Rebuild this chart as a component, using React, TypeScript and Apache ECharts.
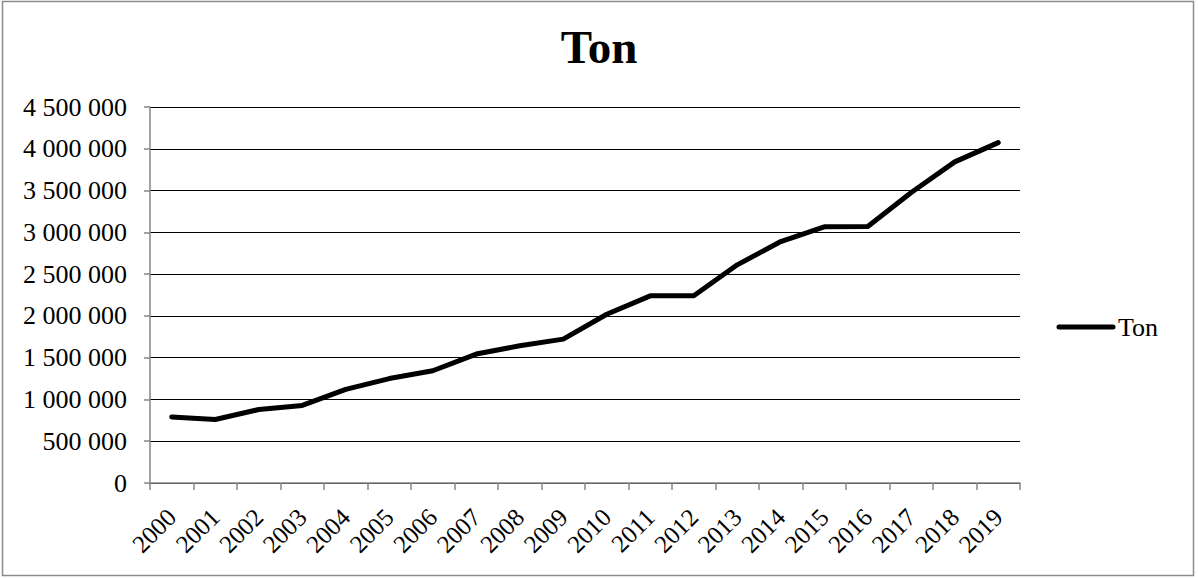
import React, { useEffect, useRef } from "react";
import * as echarts from "echarts";

const years = [
  "2000", "2001", "2002", "2003", "2004", "2005", "2006", "2007", "2008", "2009",
  "2010", "2011", "2012", "2013", "2014", "2015", "2016", "2017", "2018", "2019",
];
const tonValues = [
  790000, 760000, 880000, 928000, 1120000, 1250000, 1343000, 1543000, 1642000, 1722000,
  2020000, 2240000, 2240000, 2611000, 2890000, 3066000, 3070000, 3476000, 3843000, 4074000,
];
const seriesName = "Ton";
const titleText = "Ton";

const fmt = (v: number) => String(v).replace(/\B(?=(\d{3})+(?!\d))/g, " ");

export default function App() {
  const ref = useRef<HTMLDivElement>(null);
  useEffect(() => {
    if (!ref.current) return;
    const chart = echarts.init(ref.current, null, { renderer: "svg" });
    const font = "'Liberation Serif', 'Times New Roman', serif";
    chart.setOption({
      animation: false,
      backgroundColor: "#ffffff",
      title: {
        text: titleText,
        left: "center",
        top: 18,
        textStyle: { fontFamily: font, fontSize: 47, fontWeight: "bold", color: "#000" },
      },
      legend: {
        show: true,
        left: 1058,
        top: 309,
        itemWidth: 55,
        itemHeight: 14,
        itemGap: 0,
        data: [{ name: seriesName, icon: "none" }],
        textStyle: { fontFamily: font, fontSize: 26, color: "#000", padding: [0, 0, 0, -5] },
      },
      graphic: [
        {
          type: "rect",
          shape: { x: 2.5, y: 1.5, width: 1191, height: 574 },
          style: { fill: "none", stroke: "#8c8c8c", lineWidth: 1.5 },
          silent: true,
        },
        {
          type: "line",
          shape: { x1: 1059, y1: 327, x2: 1113, y2: 327 },
          style: { stroke: "#000", lineWidth: 5, lineCap: "round" },
          silent: true,
        },
      ],
      grid: { left: 150, right: 178, top: 107, bottom: 96, containLabel: false },
      xAxis: {
        type: "category",
        data: years,
        boundaryGap: true,
        axisLine: { show: true, lineStyle: { color: "#868686", width: 1.5 } },
        axisTick: { show: true, length: 7, inside: false, alignWithLabel: false, lineStyle: { color: "#868686", width: 1.5 } },
        axisLabel: {
          interval: 0,
          rotate: 45,
          margin: 30,
          fontFamily: font,
          fontSize: 25,
          color: "#000",
        },
        splitLine: { show: false },
      },
      yAxis: {
        type: "value",
        min: 0,
        max: 4500000,
        interval: 500000,
        axisLine: { show: true, lineStyle: { color: "#868686", width: 1.5 } },
        axisTick: { show: true, length: 6, lineStyle: { color: "#868686", width: 1.5 } },
        axisLabel: {
          margin: 23,
          fontFamily: font,
          fontSize: 26,
          color: "#000",
          formatter: (v: number) => fmt(v),
        },
        splitLine: { show: true, lineStyle: { color: "#000", width: 1.2 } },
      },
      series: [
        {
          name: seriesName,
          type: "line",
          data: tonValues,
          symbol: "none",
          lineStyle: { color: "#000", width: 5, cap: "round", join: "round" },
          itemStyle: { color: "#000" },
        },
      ],
    });
    return () => chart.dispose();
  }, []);
  return (
    <div
      ref={ref}
      style={{ position: "fixed", left: 0, top: 0, width: 1198, height: 579, background: "#fff" }}
    />
  );
}
